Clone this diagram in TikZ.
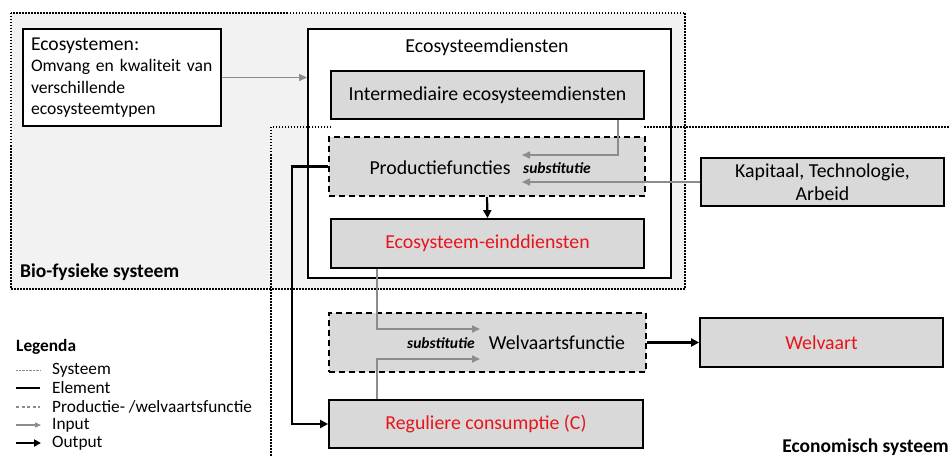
\documentclass[tikz,border=0pt]{standalone}
\usepackage{fontspec}
\setmainfont{Carlito}
\usetikzlibrary{arrows.meta}
\definecolor{boxgray}{HTML}{D9D9D9}
\definecolor{biogray}{HTML}{F2F2F2}
\definecolor{ared}{HTML}{E8141B}
\definecolor{agray}{HTML}{8C8C8C}
\newcommand\fsz[2]{\fontsize{#1}{#2}\selectfont}
\begin{document}
\begin{tikzpicture}[x=1pt,y=-1pt,
  gbox/.style={draw, line width=1.8pt, fill=boxgray, inner sep=0pt, font=\fsz{19.8}{23}},
  dbox/.style={gbox, dash pattern=on 6pt off 4pt},
  sysline/.style={line width=2pt, dash pattern=on 1.5pt off 1.5pt},
  input/.style={draw=agray, line width=1.6pt, -{Triangle[length=8pt,width=7pt]}},
  output/.style={draw=black, line width=2.2pt, -{Triangle[length=8pt,width=8pt]}},
  lbl/.style={inner sep=0pt, font=\fsz{19.8}{23}},
  sub/.style={inner sep=0pt, font=\bfseries\itshape\fsz{15.5}{17}},
  leg/.style={anchor=west, inner sep=0pt, font=\fsz{17.3}{19}}]
\useasboundingbox (0,0) rectangle (949,457);
\clip (0,0) rectangle (949,457);
% bio-physical system
\fill[biogray] (11,13) rectangle (685,289);
\draw[sysline] (11,13) rectangle (685,289);
% ecosystem services frame
\node[draw, line width=1.9pt, fill=white, minimum width=363pt, minimum height=249pt, inner sep=0pt] (diensten) at (489.5,153.5) {};
% economic system
\draw[sysline] (331,127) -- (271,127) -- (271,470);
\draw[sysline] (644,127) -- (960,127);
% ecosystems
\node[draw, line width=1.8pt, fill=white, text width=182pt, inner xsep=8pt, inner ysep=0pt, minimum height=97pt, align=left, font=\fsz{17.6}{21.3}] (eco) at (122,77.5)
  {{\fsz{19.6}{21}Ecosystemen:}\\Omvang en kwaliteit van\\verschillende\\ecosysteemtypen};
\node[lbl] (dtitle) at (487,47) {Ecosysteemdiensten};
\node[gbox, minimum width=313pt, minimum height=48pt] (inter) at (487.5,95) {Intermediaire ecosysteemdiensten};
\node[dbox, minimum width=316pt, minimum height=59pt] (prod) at (487,166.5) {};
\node[lbl] (prodt) at (440,168) {Productiefuncties};
\node[sub] (sub1) at (557,168) {substitutie};
\node[gbox, minimum width=313pt, minimum height=49pt, text=ared] (eind) at (487.5,243.5) {Ecosysteem-einddiensten};
\node[gbox, minimum width=243pt, minimum height=48pt, align=center] (kap) at (822.5,182) {Kapitaal, Technologie,\\Arbeid};
\node[dbox, minimum width=317pt, minimum height=59pt] (welf) at (487.5,342.5) {};
\node[lbl] (welft) at (557,343) {Welvaartsfunctie};
\node[sub] (sub2) at (441,343) {substitutie};
\node[gbox, minimum width=243pt, minimum height=49pt, text=ared] (welv) at (821.5,342.5) {Welvaart};
\node[gbox, minimum width=314pt, minimum height=48pt, text=ared] (regc) at (486,424) {Reguliere consumptie (C)};
% connectors
\coordinate (t1) at (522,155);
\coordinate (t2) at (522,182);
\coordinate (t3) at (480,329);
\coordinate (t4) at (480,359);
\draw[input] (eco.east) -- (eco.east -| diensten.west);
\draw[input] ([xshift=130.5pt]inter.south) |- (t1);
\draw[input] (kap.west) -- (t2);
\draw[output] (prod.south) -- (eind.north);
\draw[output] (prod.west) -- ++(-36,0) |- (regc.west);
\draw[input] ([xshift=-110.5pt]eind.south) |- (t3);
\draw[input] ([xshift=-109pt]regc.north) |- (t4);
\draw[output] (welf.east) -- (welv.west);
% system labels
\node[anchor=west, inner sep=0pt, font=\bfseries\fsz{19.5}{22}] (biolab) at (20,272) {Bio-fysieke systeem};
\node[anchor=east, inner sep=0pt, font=\bfseries\fsz{19.5}{22}] (econlab) at (949,447) {Economisch systeem};
% legend
\node[leg, font=\bfseries\fsz{17.3}{19}] (legt) at (16,347) {Legenda};
\node[leg] (l1) at (52,370) {Systeem};
\node[leg] (l2) at (52,388) {Element};
\node[leg] (l3) at (52,407) {Productie- /welvaartsfunctie};
\node[leg] (l4) at (52,425) {Input};
\node[leg] (l5) at (52,443) {Output};
\draw[agray, line width=0.9pt, dash pattern=on 0.8pt off 0.6pt] (16,370) -- (40,370);
\draw[black, line width=1.2pt] (16,388) -- (40,388);
\draw[agray, line width=1.1pt, dash pattern=on 3pt off 2.5pt] (16,407) -- (40,407);
\draw[agray, line width=1.1pt, -{Triangle[length=6pt,width=5pt]}] (16,425) -- (41,425);
\draw[black, line width=1.8pt, -{Triangle[length=7pt,width=7pt]}] (16,443) -- (41,443);
\end{tikzpicture}
\end{document}
